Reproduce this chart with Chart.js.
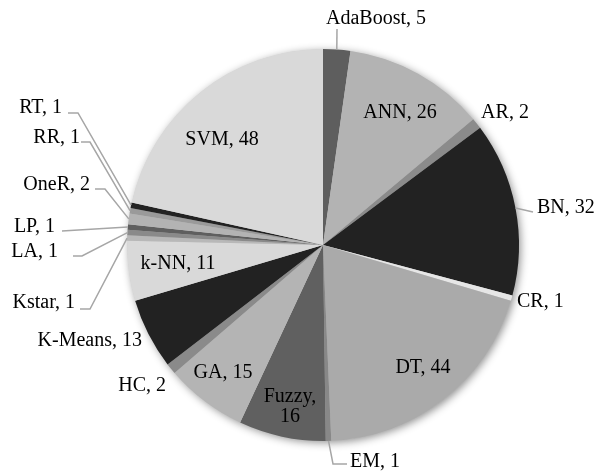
<!DOCTYPE html>
<html>
<head>
<meta charset="utf-8">
<script src="https://cdn.jsdelivr.net/npm/chart.js@4/dist/chart.umd.min.js"></script>
<style>
  html, body { margin: 0; padding: 0; background: #ffffff; }
  #wrap { width: 607px; height: 471px; position: relative; }
</style>
</head>
<body>
<div id="wrap"><canvas id="pie"></canvas></div>
<script>
// Number of studies per technique
const techniques = ['AdaBoost', 'ANN', 'AR', 'BN', 'CR', 'DT', 'EM', 'Fuzzy', 'GA', 'HC',
  'K-Means', 'k-NN', 'Kstar', 'LA', 'LP', 'OneR', 'RR', 'RT', 'SVM'];
const counts = [5, 26, 2, 32, 1, 44, 1, 16, 15, 2, 13, 11, 1, 1, 1, 2, 1, 1, 48];

// Grayscale fill per slice
const shades = ['#5e5e5e', '#b3b3b3', '#8b8b8b', '#222222', '#e6e6e6', '#aaaaaa', '#888888',
  '#606060', '#b4b4b4', '#8a8a8a', '#222222', '#d9d9d9', '#b8b8b8', '#8a8a8a', '#5f5f5f',
  '#b3b3b3', '#9a9a9a', '#222222', '#d9d9d9'];

// Label placement, as offsets from the pie centre for a radius of 196px.
// text: anchor point of the label; align: text alignment;
// path: bend points of the leader line, drawn from the slice rim outwards.
const R0 = 196;
const labelLayout = {
  'AdaBoost': { text: [53, -226], align: 'center', path: [[14, -216]] },
  'ANN':      { text: [77, -132], align: 'center' },
  'AR':       { text: [182, -132], align: 'center' },
  'BN':       { text: [214, -37], align: 'left', path: [[210, -33]] },
  'CR':       { text: [194, 57], align: 'left' },
  'DT':       { text: [100, 123], align: 'center' },
  'EM':       { text: [27, 217], align: 'left', path: [[10, 219], [24, 219]] },
  'Fuzzy':    { text: [-33, 152], align: 'center', lines: ['Fuzzy,', '16'] },
  'GA':       { text: [-100, 128], align: 'center' },
  'HC':       { text: [-157, 141], align: 'right' },
  'K-Means':  { text: [-181, 96], align: 'right' },
  'k-NN':     { text: [-145, 19], align: 'center' },
  'Kstar':    { text: [-248, 58], align: 'right', path: [[-233, 64], [-243, 64]] },
  'LA':       { text: [-265, 7], align: 'right', path: [[-241, 11], [-250, 11]] },
  'LP':       { text: [-268, -18], align: 'right', path: [[-261, -14]] },
  'OneR':     { text: [-233, -60], align: 'right', path: [[-218, -56], [-228, -56]] },
  'RR':       { text: [-243, -107], align: 'right', path: [[-233, -103], [-242, -103]] },
  'RT':       { text: [-261, -137], align: 'right', path: [[-245, -132], [-255, -132]] },
  'SVM':      { text: [-101, -105], align: 'center' }
};

// Soft drop shadow behind the whole pie
const pieShadow = {
  id: 'pieShadow',
  beforeDatasetsDraw(chart) {
    const arc = chart.getDatasetMeta(0).data[0];
    if (!arc) return;
    const ctx = chart.ctx;
    ctx.save();
    ctx.shadowColor = 'rgba(0,0,0,0.45)';
    ctx.shadowBlur = 9;
    ctx.shadowOffsetX = 2;
    ctx.shadowOffsetY = 2;
    ctx.fillStyle = '#cccccc';
    ctx.beginPath();
    ctx.arc(arc.x, arc.y, arc.outerRadius - 0.5, 0, Math.PI * 2);
    ctx.fill();
    ctx.restore();
  }
};

// Category/value labels with leader lines
const sliceLabels = {
  id: 'sliceLabels',
  afterDatasetsDraw(chart) {
    const meta = chart.getDatasetMeta(0);
    const ctx = chart.ctx;
    ctx.save();
    ctx.font = '20px "Liberation Serif", "Times New Roman", serif';
    ctx.textBaseline = 'middle';
    meta.data.forEach((arc, i) => {
      const name = techniques[i];
      const lay = labelLayout[name];
      if (!lay) return;
      const cx = arc.x, cy = arc.y, r = arc.outerRadius;
      const k = r / R0;
      const toPx = p => [cx + p[0] * k, cy + p[1] * k];
      if (lay.path) {
        const mid = (arc.startAngle + arc.endAngle) / 2;
        ctx.strokeStyle = '#a6a6a6';
        ctx.lineWidth = 1.5;
        ctx.beginPath();
        ctx.moveTo(cx + Math.cos(mid) * r, cy + Math.sin(mid) * r);
        lay.path.forEach(p => { const q = toPx(p); ctx.lineTo(q[0], q[1]); });
        ctx.stroke();
      }
      const [tx, ty] = toPx(lay.text);
      ctx.fillStyle = '#000000';
      ctx.textAlign = lay.align;
      const lines = lay.lines || [name + ', ' + counts[i]];
      const lh = 20;
      lines.forEach((ln, j) => ctx.fillText(ln, tx, ty + j * lh));
    });
    ctx.restore();
  }
};

new Chart(document.getElementById('pie'), {
  type: 'pie',
  data: {
    labels: techniques,
    datasets: [{
      data: counts,
      backgroundColor: shades,
      borderWidth: 0
    }]
  },
  options: {
    responsive: true,
    maintainAspectRatio: false,
    animation: false,
    layout: { padding: { left: 127, right: 88, top: 49, bottom: 30 } },
    plugins: {
      legend: { display: false },
      tooltip: { enabled: false }
    }
  },
  plugins: [pieShadow, sliceLabels]
});
</script>
</body>
</html>
